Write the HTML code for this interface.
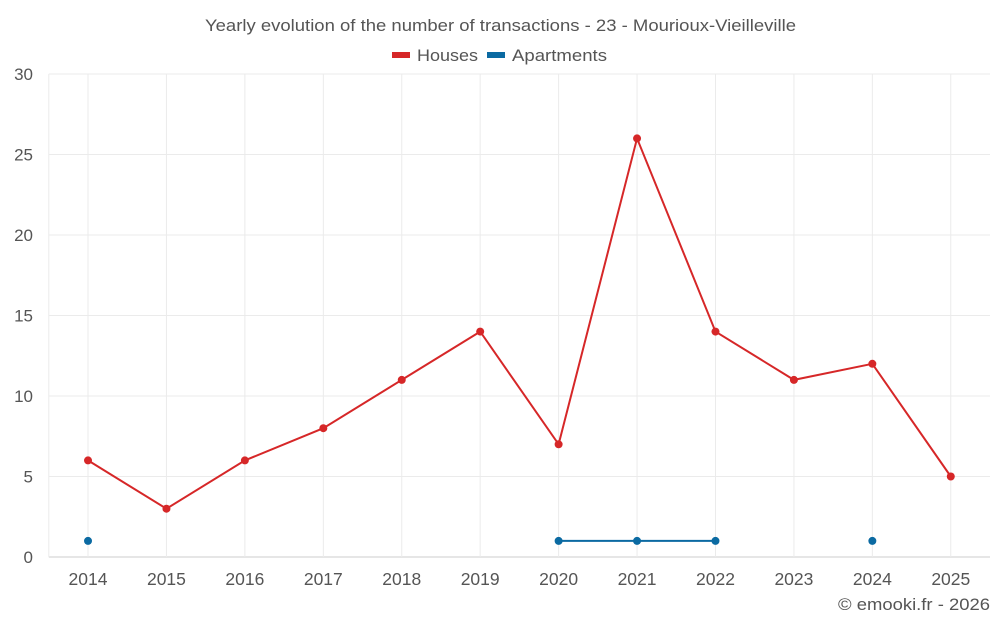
<!DOCTYPE html>
<html><head><meta charset="utf-8"><style>
body{margin:0;background:#fff;font-family:"Liberation Sans",sans-serif;}
svg text{font-family:"Liberation Sans",sans-serif;fill:#555;}
</style></head><body>
<svg id="chart" width="1000" height="625">
<text x="205" y="31" font-size="17" textLength="591" lengthAdjust="spacingAndGlyphs">Yearly evolution of the number of transactions - 23 - Mourioux-Vieilleville</text>
<g>
<g><rect x="392" y="52" width="18" height="6" fill="#d62728"/><text x="417" y="61" font-size="17" textLength="61" lengthAdjust="spacingAndGlyphs">Houses</text></g>
<g><rect x="487" y="52" width="18" height="6" style="fill:#0b6aa2"/><text x="512" y="61" font-size="17" textLength="95" lengthAdjust="spacingAndGlyphs">Apartments</text></g>
</g>
<g id="grid"></g><g id="axes"></g><g id="series"></g>
<text x="838" y="610" font-size="17" textLength="152" lengthAdjust="spacingAndGlyphs">© emooki.fr - 2026</text>
</svg>
<script>
const categories=[2014,2015,2016,2017,2018,2019,2020,2021,2022,2023,2024,2025];
const houses=[6,3,6,8,11,14,7,26,14,11,12,5];
const apartments=[1,null,null,null,null,null,1,1,1,null,1,null];
const yTicks=[0,5,10,15,20,25,30];
const NS="http://www.w3.org/2000/svg";
const L=48.8,R=990,T=74,B=557,yMax=30;
const step=(R-L)/categories.length;
const xs=i=>L+step*(i+0.5);
const ys=v=>B-(v/yMax)*(B-T);
function mk(tag,attrs,parent){const e=document.createElementNS(NS,tag);for(const k in attrs)e.setAttribute(k,attrs[k]);parent.appendChild(e);return e;}
const grid=document.getElementById('grid'),axes=document.getElementById('axes'),ser=document.getElementById('series');
yTicks.forEach(t=>{
 const l=mk('line',{x1:L,x2:R,y1:ys(t),y2:ys(t),stroke:t===0?'#ccc':'#ebebeb'},grid);
 
 
 const tx=mk('text',{x:33,y:ys(t)+6,'text-anchor':'end','font-size':17},axes);tx.textContent=t;
 
 
});
mk('line',{x1:L,x2:L,y1:T,y2:B,stroke:'#ebebeb'},grid);
categories.forEach((c,i)=>{
 const l=mk('line',{x1:xs(i),x2:xs(i),y1:T,y2:B,stroke:'#ebebeb'},grid);
 
 
 const tx=mk('text',{x:xs(i),y:585,'text-anchor':'middle','font-size':17.5},axes);tx.textContent=c;
 
 
});
function drawSeries(vals,color,name){
 let seg=[];const segs=[];
 vals.forEach((v,i)=>{if(v==null){if(seg.length)segs.push(seg);seg=[];}else seg.push([xs(i),ys(v)]);});
 if(seg.length)segs.push(seg);
 segs.forEach(s=>{if(s.length>1){const p=mk('polyline',{points:s.map(q=>q.join(',')).join(' '),fill:'none',stroke:color,'stroke-width':2},ser);
  
  }});
 vals.forEach((v,i)=>{if(v==null)return;const c=mk('circle',{cx:xs(i),cy:ys(v),r:4,fill:color},ser);
  
  });
}
drawSeries(houses,'#d62728','houses');
drawSeries(apartments,'#0b6aa2','apartments');
</script>
</body></html>
